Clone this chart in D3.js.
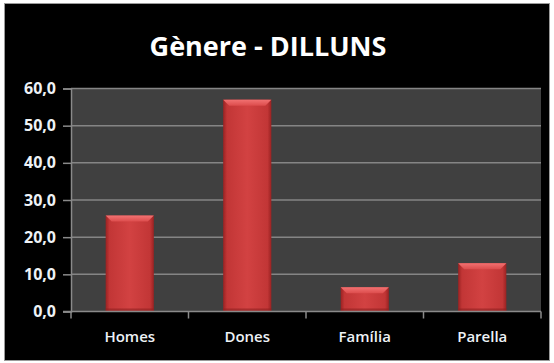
<!DOCTYPE html>
<html>
<head>
<meta charset="utf-8">
<script src="https://cdn.jsdelivr.net/npm/d3@7"></script>
<style>
  html, body { margin: 0; padding: 0; background: #ffffff; }
  svg { display: block; }
  text { font-family: "Open Sans", "Noto Sans", sans-serif; }
</style>
</head>
<body>
<div id="chart"></div>
<script>
// Percentatge per gènere, dilluns
const categories = ["Homes", "Dones", "Família", "Parella"];
const values = [25.8, 57.0, 6.5, 13.0];
const yTicks = [0, 10, 20, 30, 40, 50, 60];
const title = "Gènere - DILLUNS";

const W = 554, H = 363;
const plot = { left: 71, right: 541, top: 88.5, bottom: 311.5 };

const svg = d3.select("#chart").append("svg")
  .attr("width", W).attr("height", H);

const defs = svg.append("defs");
const grad = defs.append("linearGradient")
  .attr("id", "barGrad").attr("x1", 0).attr("x2", 1).attr("y1", 0).attr("y2", 0);
[[0, "#9a2222"], [0.08, "#c23636"], [0.5, "#d24242"], [0.92, "#c23636"], [1, "#9a2222"]]
  .forEach(([o, c]) => grad.append("stop").attr("offset", o).attr("stop-color", c));
const topGrad = defs.append("linearGradient")
  .attr("id", "bevelGrad").attr("x1", 0).attr("x2", 0).attr("y1", 0).attr("y2", 1);
[[0, "#f27272"], [1, "#dc4c4c"]]
  .forEach(([o, c]) => topGrad.append("stop").attr("offset", o).attr("stop-color", c));

// Chart frame
svg.append("rect")
  .attr("x", 4.5).attr("y", 3.5).attr("width", 545).attr("height", 357)
  .attr("fill", "#000").attr("stroke", "#9a9a9a").attr("stroke-width", 1);

// Title
svg.append("text")
  .attr("x", 268).attr("y", 56)
  .attr("text-anchor", "middle")
  .attr("font-size", 27).attr("font-weight", "bold")
  .attr("fill", "#ffffff")
  .text(title);

const x = d3.scaleBand().domain(categories)
  .range([plot.left, plot.right]).paddingInner(0.59).paddingOuter(0.295);
const y = d3.scaleLinear().domain([0, 60]).range([plot.bottom, plot.top]);

// Plot area
svg.append("rect")
  .attr("x", plot.left).attr("y", plot.top)
  .attr("width", plot.right - plot.left).attr("height", plot.bottom - plot.top)
  .attr("fill", "#404040");

// Gridlines
svg.append("g").selectAll("line").data(yTicks.filter(d => d > 0)).join("line")
  .attr("x1", plot.left).attr("x2", plot.right)
  .attr("y1", d => y(d)).attr("y2", d => y(d))
  .attr("stroke", "#858585").attr("stroke-width", 1.5);

// Bars
const bars = svg.append("g").selectAll("g").data(categories).join("g");
bars.append("rect")
  .attr("x", d => x(d)).attr("width", x.bandwidth())
  .attr("y", (d, i) => y(values[i]))
  .attr("height", (d, i) => y(0) - y(values[i]))
  .attr("fill", "url(#barGrad)");
// Top bevel
bars.append("path")
  .attr("d", (d, i) => {
    const x0 = x(d), x1 = x(d) + x.bandwidth(), t = y(values[i]), b = 6;
    return `M${x0},${t} L${x1},${t} L${x1 - b},${t + b} L${x0 + b},${t + b} Z`;
  })
  .attr("fill", "url(#bevelGrad)");
// Bottom shading
bars.append("rect")
  .attr("x", d => x(d)).attr("width", x.bandwidth())
  .attr("y", y(0) - 3).attr("height", 3)
  .attr("fill", "#8e1f1f").attr("opacity", 0.6);

// Y axis
const yAxis = d3.axisLeft(y).tickValues(yTicks)
  .tickFormat(d => d3.format(".1f")(d).replace(".", ","))
  .tickSize(8).tickPadding(7);
const gy = svg.append("g").attr("transform", `translate(${plot.left},0)`).call(yAxis);
gy.select(".domain").attr("stroke", "#8a8a8a").attr("stroke-width", 1.5);
gy.selectAll(".tick line").attr("stroke", "#8a8a8a").attr("stroke-width", 1.5);
gy.selectAll(".tick text")
  .attr("fill", "#eef2f6").attr("font-size", 16).attr("font-weight", "bold")
  .attr("font-family", "\"Open Sans\", sans-serif");

// X axis
const gx = svg.append("g").attr("transform", `translate(0,${plot.bottom})`);
gx.append("line")
  .attr("x1", plot.left - 8).attr("x2", plot.right)
  .attr("y1", 0).attr("y2", 0)
  .attr("stroke", "#8a8a8a").attr("stroke-width", 1.5);
const step = (plot.right - plot.left) / categories.length;
gx.selectAll("line.sep").data(d3.range(categories.length + 1)).join("line")
  .attr("class", "sep")
  .attr("x1", i => plot.left + i * step).attr("x2", i => plot.left + i * step)
  .attr("y1", 0).attr("y2", 7)
  .attr("stroke", "#8a8a8a").attr("stroke-width", 1.5);
gx.selectAll("text").data(categories).join("text")
  .attr("x", d => x(d) + x.bandwidth() / 2).attr("y", 30)
  .attr("text-anchor", "middle")
  .attr("fill", "#eef2f6").attr("font-size", 15).attr("font-weight", 600)
  .text(d => d);
</script>
</body>
</html>
